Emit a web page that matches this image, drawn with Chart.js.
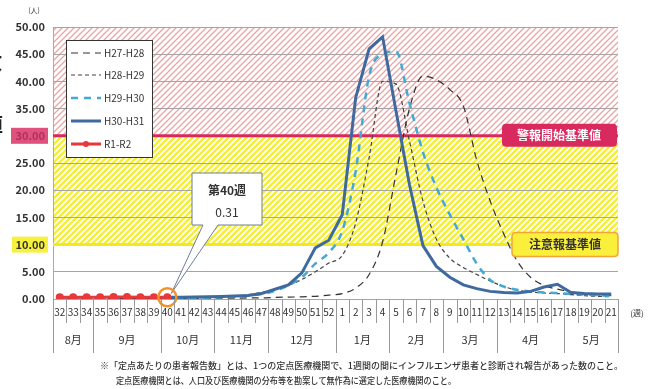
<!DOCTYPE html>
<html><head><meta charset="utf-8">
<script src="https://cdn.jsdelivr.net/npm/chart.js@4.4.1/dist/chart.umd.min.js"></script>
<style>html,body{margin:0;padding:0;background:#fff;}#wrap{width:651px;height:389px;position:relative;overflow:hidden;}</style>
</head><body><div id="wrap"><canvas id="c" width="651" height="389"></canvas></div>
<script>
const F = '"Noto Sans CJK JP", "Noto Sans", sans-serif';
const weeks = [32,33,34,35,36,37,38,39,40,41,42,43,44,45,46,47,48,49,50,51,52,1,2,3,4,5,6,7,8,9,10,11,12,13,14,15,16,17,18,19,20,21];
const months = ['8月','9月','10月','11月','12月','1月','2月','3月','4月','5月'];
const monthFirstWeek = [32,35,40,44,48,1,5,9,13,18];
const yTicks = [0,5,10,15,20,25,30,35,40,45,50];
const seriesNames = ['H27-H28','H28-H29','H29-H30','H30-H31','R1-R2'];
const alertLevel = 30, warnLevel = 10;
const noteWeek = 40, noteValue = 0.31;

const h27 = [0.1,0.1,0.1,0.1,0.1,0.1,0.1,0.1,0.1,0.1,0.1,0.1,0.15,0.15,0.2,0.2,0.3,0.35,0.4,0.5,0.7,
  1.0,2.0,4.5,10.5,23,35,41,40.3,38.5,35.5,25.5,18,12,7,4,2.5,1.8,1.3,1.0,0.8,0.6];
const h28 = [0.1,0.1,0.1,0.1,0.1,0.1,0.1,0.15,0.15,0.2,0.2,0.25,0.3,0.5,0.8,1.2,1.8,2.5,3.6,5.0,6.6,
  8.0,14,26,40,39.5,29,18,11,7.5,5.8,4.5,3.3,2.3,1.6,1.3,1.1,1.0,0.8,0.6,0.5,0.4];
const h29 = [0.1,0.1,0.1,0.1,0.1,0.1,0.1,0.1,0.1,0.1,0.2,0.2,0.3,0.4,0.6,0.9,1.5,2.5,4.0,6.5,8.5,
  12.5,23.5,41,45,45.5,36,27,20.5,15.5,11,6.5,3.5,2.3,1.7,1.4,1.2,1.1,0.9,0.8,0.7,0.6];
const h30 = [null,null,null,null,null,null,null,null,0.3,0.3,0.35,0.4,0.45,0.55,0.65,1.0,1.8,2.6,4.8,9.4,10.8,
  15.5,37,46,48.2,34.5,21,9.8,6.0,4.0,2.6,1.9,1.4,1.2,1.1,1.4,2.2,2.7,1.2,1.0,0.9,0.9];
const r1 = [0.3,0.3,0.3,0.3,0.35,0.35,0.3,0.3,0.31,null,null,null,null,null,null,null,null,null,null,null,null,
  null,null,null,null,null,null,null,null,null,null,null,null,null,null,null,null,null,null,null,null,null];

function hatch(color, w){
  const c = document.createElement('canvas'); c.width = 6; c.height = 6;
  const g = c.getContext('2d');
  g.fillStyle = '#fff'; g.fillRect(0,0,6,6);
  g.strokeStyle = color; g.lineWidth = w;
  g.beginPath();
  g.moveTo(-1,7); g.lineTo(7,-1);
  g.moveTo(-4,4); g.lineTo(4,-4);
  g.moveTo(2,10); g.lineTo(10,2);
  g.stroke();
  return c;
}
function rrect(ctx,x,y,w,h,r){
  ctx.beginPath();
  ctx.moveTo(x+r,y); ctx.lineTo(x+w-r,y); ctx.quadraticCurveTo(x+w,y,x+w,y+r);
  ctx.lineTo(x+w,y+h-r); ctx.quadraticCurveTo(x+w,y+h,x+w-r,y+h);
  ctx.lineTo(x+r,y+h); ctx.quadraticCurveTo(x,y+h,x,y+h-r);
  ctx.lineTo(x,y+r); ctx.quadraticCurveTo(x,y,x+r,y); ctx.closePath();
}

const decor = {
  id:'decor',
  beforeDraw(chart){
    const ctx = chart.ctx, a = chart.chartArea, y = chart.scales.y;
    ctx.save();
    ctx.fillStyle = '#fff'; ctx.fillRect(0,0,chart.width,chart.height);
    const red = ctx.createPattern(hatch('#eea3a3',1.3),'repeat');
    const yel = ctx.createPattern(hatch('#f4ee3e',2.4),'repeat');
    const y50 = y.getPixelForValue(50), y30 = y.getPixelForValue(alertLevel), y10 = y.getPixelForValue(warnLevel);
    ctx.fillStyle = red; ctx.fillRect(a.left, y50, a.right-a.left, y30-y50);
    ctx.fillStyle = yel; ctx.fillRect(a.left, y30, a.right-a.left, y10-y30);
    // tick highlights
    ctx.fillStyle = '#e0527e'; ctx.fillRect(11, y30-8, 37, 16);
    ctx.fillStyle = '#f7f03c'; ctx.fillRect(12, y10-8, 36, 16);
    ctx.restore();
  },
  beforeDatasetsDraw(chart){
    const ctx = chart.ctx, a = chart.chartArea, y = chart.scales.y;
    ctx.save();
    ctx.lineWidth = 3;
    ctx.strokeStyle = '#d9285e';
    ctx.beginPath(); ctx.moveTo(a.left, y.getPixelForValue(alertLevel)); ctx.lineTo(a.right, y.getPixelForValue(alertLevel)); ctx.stroke();
    ctx.strokeStyle = '#f2ea1e';
    ctx.beginPath(); ctx.moveTo(a.left, y.getPixelForValue(warnLevel)); ctx.lineTo(a.right, y.getPixelForValue(warnLevel)); ctx.stroke();
    ctx.restore();
  },
  afterDatasetsDraw(chart){
    const ctx = chart.ctx, a = chart.chartArea, x = chart.scales.x, y = chart.scales.y;
    ctx.save();
    // threshold labels
    const y30 = y.getPixelForValue(alertLevel), y10 = y.getPixelForValue(warnLevel);
    rrect(ctx, 502, y30-12, 115, 23, 4); ctx.fillStyle = '#d82a5e'; ctx.fill();
    ctx.fillStyle = '#fff'; ctx.font = 'bold 12px '+F; ctx.textAlign='center'; ctx.textBaseline='middle';
    ctx.fillText('警報開始基準値', 559, y30);
    rrect(ctx, 512, y10-12, 106, 24, 4); ctx.fillStyle = '#faf03c'; ctx.fill();
    ctx.lineWidth = 1.5; ctx.strokeStyle = '#f0a535'; ctx.stroke();
    ctx.fillStyle = '#333'; ctx.fillText('注意報基準値', 565, y10);

    // legend
    ctx.fillStyle = '#fff'; ctx.fillRect(66,40,86,117);
    ctx.strokeStyle = '#333'; ctx.lineWidth = 1; ctx.strokeRect(66.5,40.5,86,117);
    const rows = [53,75,98,121,144];
    const ds = chart.data.datasets;
    seriesNames.forEach((n,i)=>{
      const d = ds.find(s=>s.label===n);
      ctx.save();
      ctx.strokeStyle = d.borderColor; ctx.lineWidth = d.borderWidth;
      ctx.setLineDash(d.borderDash || []);
      ctx.beginPath(); ctx.moveTo(71, rows[i]); ctx.lineTo(101, rows[i]); ctx.stroke();
      if (d.pointRadius){ ctx.fillStyle = d.borderColor; ctx.beginPath(); ctx.arc(86, rows[i], 3, 0, Math.PI*2); ctx.fill(); }
      ctx.restore();
      ctx.fillStyle = '#333'; ctx.font = '10px '+F; ctx.textAlign='left'; ctx.textBaseline='middle';
      ctx.fillText(n, 104, rows[i]);
    });

    // callout
    const idx = weeks.indexOf(noteWeek);
    const px = x.getPixelForValue(idx), py = y.getPixelForValue(noteValue);
    ctx.beginPath();
    ctx.moveTo(192,173); ctx.lineTo(262,173); ctx.lineTo(262,225); ctx.lineTo(218,225);
    ctx.lineTo(px+4, py-4); ctx.lineTo(203,225); ctx.lineTo(192,225); ctx.closePath();
    ctx.fillStyle = '#fff'; ctx.fill(); ctx.strokeStyle = '#6d7e98'; ctx.lineWidth = 1; ctx.stroke();
    ctx.fillStyle = '#333'; ctx.textAlign='center'; ctx.textBaseline='middle';
    ctx.font = 'bold 12px '+F; ctx.fillText('第'+noteWeek+'週', 227, 190);
    ctx.font = '12px '+F; ctx.fillText(noteValue.toFixed(2), 227, 212);
    ctx.beginPath(); ctx.arc(px, py, 9, 0, Math.PI*2);
    ctx.strokeStyle = '#f29328'; ctx.lineWidth = 2.5; ctx.stroke();
    ctx.restore();
  },
  afterDraw(chart){
    const ctx = chart.ctx, a = chart.chartArea, x = chart.scales.x;
    ctx.save();
    const half = (x.getPixelForValue(1)-x.getPixelForValue(0))/2;
    ctx.strokeStyle = '#9a9a9a'; ctx.lineWidth = 1;
    // category separators
    for (let i=0;i<=weeks.length;i++){
      const sx = Math.round(x.getPixelForValue(0) - half + i*2*half)+0.5;
      const isMonth = i===0 || i===weeks.length || monthFirstWeek.includes(weeks[i]);
      ctx.beginPath(); ctx.moveTo(sx, a.bottom); ctx.lineTo(sx, isMonth ? 353 : 323); ctx.stroke();
    }
    // month labels
    ctx.fillStyle = '#333'; ctx.font = '11px '+F; ctx.textAlign='center'; ctx.textBaseline='middle';
    monthFirstWeek.forEach((w,i)=>{
      const s = weeks.indexOf(w);
      const e = i+1<monthFirstWeek.length ? weeks.indexOf(monthFirstWeek[i+1])-1 : weeks.length-1;
      const cx = (x.getPixelForValue(s)+x.getPixelForValue(e))/2;
      ctx.fillText(months[i], cx, 340);
    });
    ctx.font = '8px '+F; ctx.fillText('(週)', 637, 313);
    ctx.font = '7px '+F; ctx.fillText('(人)', 34, 10);
    // y title fragments (clipped at left edge)
    ctx.font = 'bold 20px '+F; ctx.fillStyle = '#222';
    ctx.fillText('数', -8, 62); ctx.fillText('値', -7, 124);
    // footnote
    ctx.font = '500 9px '+F; ctx.textAlign='left'; ctx.fillStyle = '#333';
    ctx.fillText('※「定点あたりの患者報告数」とは、1つの定点医療機関で、1週間の間にインフルエンザ患者と診断され報告があった数のこと。', 100, 366, 540);
    ctx.fillText('定点医療機関とは、人口及び医療機関の分布等を勘案して無作為に選定した医療機関のこと。', 116, 381, 340);
    ctx.restore();
  }
};

new Chart(document.getElementById('c'), {
  type:'line',
  data:{
    labels: weeks.map(String),
    datasets:[
      {label:'R1-R2', data:r1, borderColor:'#e8383a', backgroundColor:'#e8383a', borderWidth:3, pointRadius:4, pointBackgroundColor:'#e8383a', pointBorderWidth:0, tension:0},
      {label:'H30-H31', data:h30, borderColor:'#3f6a9f', borderWidth:3, pointRadius:0, tension:0},
      {label:'H29-H30', data:h29, borderColor:'#45a9d6', borderWidth:2.5, borderDash:[7,6], pointRadius:0, cubicInterpolationMode:'monotone'},
      {label:'H28-H29', data:h28, borderColor:'#444', borderWidth:1.2, borderDash:[4,3], pointRadius:0, cubicInterpolationMode:'monotone'},
      {label:'H27-H28', data:h27, borderColor:'#333', borderWidth:1.2, borderDash:[7,5], pointRadius:0, cubicInterpolationMode:'monotone'}
    ]
  },
  options:{
    responsive:false, animation:false, devicePixelRatio:1,
    layout:{padding:{left:0, top:27, right:33, bottom:0}},
    plugins:{legend:{display:false}, tooltip:{enabled:false}},
    scales:{
      x:{offset:true, grid:{display:false, drawTicks:false}, border:{display:false},
         ticks:{autoSkip:false, maxRotation:0, minRotation:0, padding:7, color:'#333', font:{size:10, family:F}},
         afterFit(s){ s.height = 90; }},
      y:{min:0, max:50, afterBuildTicks(s){ s.ticks = yTicks.map(v=>({value:v})); },
         ticks:{callback:v=>Number(v).toFixed(2), padding:8, font:{size:11, weight:'bold', family:F},
           color:c=> c.tick && c.tick.value===alertLevel ? '#b3305a' : '#333'},
         grid:{color:'#a5a5a5', drawTicks:false}, border:{display:true, color:'#aaa'},
         afterFit(s){ s.width = 53; }}
    }
  },
  plugins:[decor]
});
</script></body></html>
